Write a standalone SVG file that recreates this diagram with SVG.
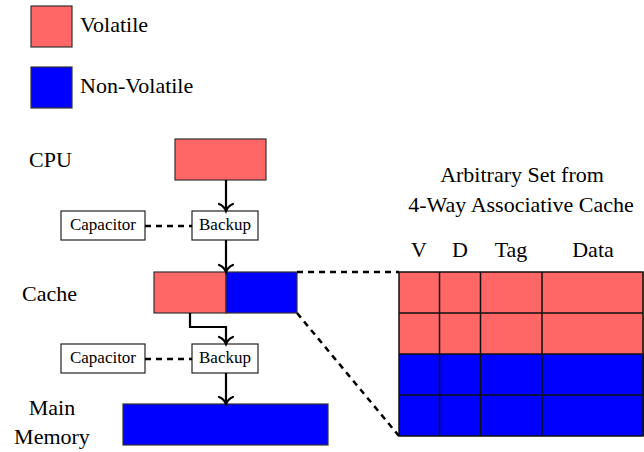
<svg xmlns="http://www.w3.org/2000/svg" width="644" height="452" viewBox="0 0 644 452">
  <style>
    .vol { fill: #ff6666; stroke: #333; stroke-width: 1.2; }
    .nv { fill: #0000ff; stroke: #333; stroke-width: 1.2; }
    .box { fill: #fff; stroke: #222; stroke-width: 1.2; }
    .grid { fill: none; stroke: #111; stroke-width: 1.5; }
    .flow { fill: none; stroke: #000; stroke-width: 2.2; }
    .dash { fill: none; stroke: #000; stroke-width: 2.5; stroke-dasharray: 6 5; }
    .head { fill: none; stroke: #000; stroke-width: 2.2; stroke-linecap: round; }
  </style>
  <g id="legend">
    <rect class="vol" x="31" y="6" width="41" height="41"/>
    <text x="80" y="32" style="font-family: 'Liberation Serif', 'Times New Roman', serif; font-size: 22px">Volatile</text>
    <rect class="nv" x="31" y="67" width="41" height="41"/>
    <text x="80" y="93" style="font-family: 'Liberation Serif', 'Times New Roman', serif; font-size: 22px">Non-Volatile</text>
  </g>
  <g id="labels">
    <text x="29" y="167" style="font-family: 'Liberation Serif', 'Times New Roman', serif; font-size: 22px">CPU</text>
    <text x="22" y="301" style="font-family: 'Liberation Serif', 'Times New Roman', serif; font-size: 22px">Cache</text>
    <text x="52" y="415" text-anchor="middle" style="font-family: 'Liberation Serif', 'Times New Roman', serif; font-size: 22px">Main</text>
    <text x="52" y="444" text-anchor="middle" style="font-family: 'Liberation Serif', 'Times New Roman', serif; font-size: 22px">Memory</text>
  </g>
  <g id="cpu">
    <rect class="vol" x="175" y="139" width="91" height="41"/>
  </g>
  <g id="backup1">
    <rect class="box" x="192" y="211" width="66" height="29"/>
    <text x="225" y="230" text-anchor="middle" style="font-family: 'Liberation Serif', 'Times New Roman', serif; font-size: 17px">Backup</text>
  </g>
  <g id="capacitor1">
    <rect class="box" x="61" y="211" width="84" height="29"/>
    <text x="103" y="230" text-anchor="middle" style="font-family: 'Liberation Serif', 'Times New Roman', serif; font-size: 17px">Capacitor</text>
  </g>
  <g id="cache">
    <rect class="vol" x="154" y="272" width="72" height="41"/>
    <rect class="nv" x="226" y="272" width="71" height="41"/>
  </g>
  <g id="backup2">
    <rect class="box" x="192" y="344" width="66" height="29"/>
    <text x="225" y="363" text-anchor="middle" style="font-family: 'Liberation Serif', 'Times New Roman', serif; font-size: 17px">Backup</text>
  </g>
  <g id="capacitor2">
    <rect class="box" x="61" y="344" width="84" height="29"/>
    <text x="103" y="363" text-anchor="middle" style="font-family: 'Liberation Serif', 'Times New Roman', serif; font-size: 17px">Capacitor</text>
  </g>
  <g id="memory">
    <rect class="nv" x="123" y="404" width="205" height="41"/>
  </g>
  <g id="cache-set">
    <text x="522" y="182" text-anchor="middle" style="font-family: 'Liberation Serif', 'Times New Roman', serif; font-size: 22px">Arbitrary Set from</text>
    <text x="521" y="212" text-anchor="middle" style="font-family: 'Liberation Serif', 'Times New Roman', serif; font-size: 22px">4-Way Associative Cache</text>
    <text x="419" y="257" text-anchor="middle" style="font-family: 'Liberation Serif', 'Times New Roman', serif; font-size: 22px">V</text>
    <text x="460" y="257" text-anchor="middle" style="font-family: 'Liberation Serif', 'Times New Roman', serif; font-size: 22px">D</text>
    <text x="511" y="257" text-anchor="middle" style="font-family: 'Liberation Serif', 'Times New Roman', serif; font-size: 22px">Tag</text>
    <text x="593" y="257" text-anchor="middle" style="font-family: 'Liberation Serif', 'Times New Roman', serif; font-size: 22px">Data</text>
    <rect x="399" y="272" width="245" height="82" fill="#ff6666"/>
    <rect x="399" y="354" width="245" height="82" fill="#0000ff"/>
    <path class="grid" d="M399 272 H643 V436 H399 Z M399 313 H643 M399 354 H643 M399 395 H643 M439.5 272 V436 M480.5 272 V436 M542 272 V436"/>
  </g>
  <g id="connectors">
    <path class="flow" d="M226 180 V210"/>
    <path class="head" d="M219 204 Q224 206 226 211 Q228 206 233 204"/>
    <path class="flow" d="M226 240 V271"/>
    <path class="head" d="M219 265 Q224 267 226 272 Q228 267 233 265"/>
    <path class="flow" d="M190 313 V327 H226 V343"/>
    <path class="head" d="M219 337 Q224 339 226 344 Q228 339 233 337"/>
    <path class="flow" d="M226 373 V403"/>
    <path class="head" d="M219 397 Q224 399 226 404 Q228 399 233 397"/>
    <path class="dash" d="M145 226 H192"/>
    <path class="dash" d="M145 359 H192"/>
    <path class="dash" d="M297 272 H399"/>
    <path class="dash" d="M297 313 L399 436"/>
  </g>
</svg>
